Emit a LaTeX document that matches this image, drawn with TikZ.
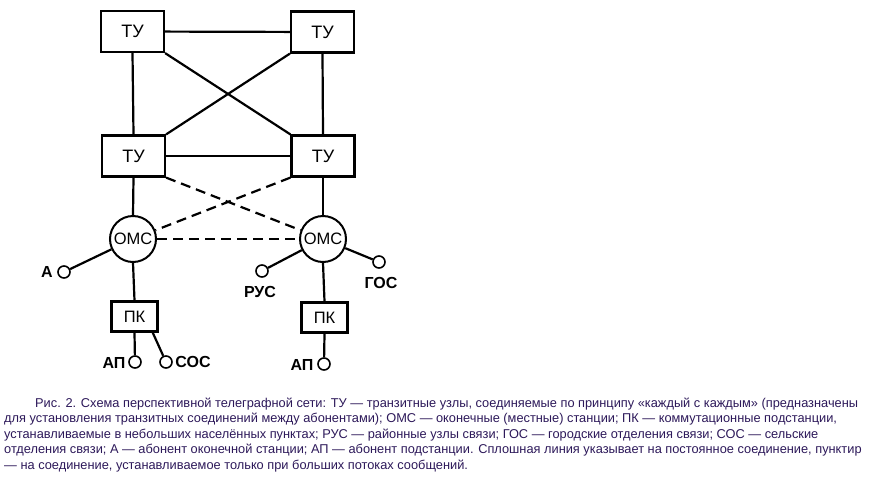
\documentclass[tikz,border=0pt]{standalone}
\usepackage{fontspec}
\setmainfont{Liberation Sans}
\definecolor{capcol}{RGB}{45,25,90}
\tikzset{
  tu/.style={draw, line width=2.2pt, minimum width=63pt, minimum height=41pt, inner sep=0pt, font=\fontsize{18}{18}\selectfont},
  oms/.style={draw, circle, line width=2pt, minimum size=46pt, inner sep=0pt, font=\fontsize{16.5}{16}\selectfont},
  pk/.style={draw, line width=2.2pt, minimum width=46pt, minimum height=30pt, inner sep=0pt, font=\fontsize{16.5}{16}\selectfont},
  sub/.style={draw, circle, line width=1.6pt, minimum size=12pt, inner sep=0pt},
  lbl/.style={font=\fontsize{16}{16}\selectfont\bfseries, inner sep=0pt},
  link/.style={line width=2.2pt},
  dlink/.style={line width=2.2pt, dash pattern=on 10pt off 6pt},
  captext/.style={anchor=base west, inner sep=0pt, text=capcol, font=\fontsize{12.8}{15}\selectfont}
}
\begin{document}
\begin{tikzpicture}[x=1pt,y=-1pt]
\useasboundingbox (0,0) rectangle (877,479);
\fill[white] (0,0) rectangle (877,479);
% nodes
\node[tu] (tutl) at (132.5,31.5) {ТУ};
\node[tu] (tutr) at (322.5,32) {ТУ};
\node[tu] (tubl) at (133.5,156) {ТУ};
\node[tu] (tubr) at (323,156) {ТУ};
\node[oms] (omsl) at (133,239) {ОМС};
\node[oms] (omsr) at (323,239) {ОМС};
\node[pk] (pkl) at (134.5,316.5) {ПК};
\node[pk] (pkr) at (324.5,317.5) {ПК};
\node[sub] (a) at (64,272) {};
\node[sub] (apl) at (135,362) {};
\node[sub] (sos) at (166,362) {};
\node[sub] (apr) at (324,364) {};
\node[sub] (rus) at (262,271) {};
\node[sub] (gos) at (379,262) {};
\node[lbl] (la) at (47,272) {А};
\node[lbl] (lapl) at (114,363) {АП};
\node[lbl] (lsos) at (193,362) {СОС};
\node[lbl] (lapr) at (302,365) {АП};
\node[lbl] (lrus) at (260,292) {РУС};
\node[lbl] (lgos) at (381,283) {ГОС};
% solid links
\draw[link] (tutl) -- (tutr);
\draw[link] (tutl.south) -- (tubl.north);
\draw[link] (tutr.south) -- (tubr.north);
\draw[link] (tutl.south east) -- (tubr.north west);
\draw[link] (tutr.south west) -- (tubl.north east);
\draw[link] (tubl) -- (tubr);
\draw[link] (tubl.south) -- (omsl.north);
\draw[link] (tubr.south) -- (omsr.north);
\draw[link] (omsl) -- (a);
\draw[link] (omsl.south) -- (pkl.north);
\draw[link] (pkl.south) -- (apl);
\coordinate (pkls) at (152,331);
\draw[link] (pkls) -- (sos);
\draw[link] (omsr) -- (rus);
\draw[link] (omsr) -- (gos);
\draw[link] (omsr.south) -- (pkr.north);
\draw[link] (pkr.south) -- (apr);
% dashed links
\draw[dlink] (tubl.south east) -- (omsr);
\draw[dlink] (tubr.south west) -- (omsl);
\draw[dlink] (omsl) -- (omsr);
% caption
\node[captext] (c1) at (35,407) {Рис. 2. Схема перспективной телеграфной сети: ТУ — транзитные узлы, соединяемые по принципу «каждый с каждым» (предназначены};
\node[captext] (c2) at (4,422.5) {для установления транзитных соединений между абонентами); ОМС — оконечные (местные) станции; ПК — коммутационные подстанции,};
\node[captext] (c3) at (4,438) {устанавливаемые в небольших населённых пунктах; РУС — районные узлы связи; ГОС — городские отделения связи; СОС — сельские};
\node[captext] (c4) at (4,453.5) {отделения связи; А — абонент оконечной станции; АП — абонент подстанции. Сплошная линия указывает на постоянное соединение, пунктир};
\node[captext] (c5) at (4,469) {— на соединение, устанавливаемое только при больших потоках сообщений.};
\end{tikzpicture}
\end{document}
